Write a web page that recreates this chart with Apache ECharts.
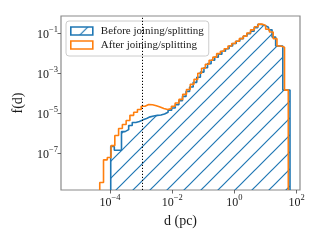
<!DOCTYPE html>
<html><head><meta charset="utf-8">
<script src="https://cdn.jsdelivr.net/npm/echarts@6/dist/echarts.min.js"></script>
<style>html,body{margin:0;padding:0;background:#fff}#c{width:320px;height:240px}</style>
</head><body><div id="c"></div>
<script>
const seriesNames = ['Before joining/splitting', 'After joining/splitting'];
// 50 log-spaced histogram bins for each series (pc)
const beforeBinRange = [1.054e-4, 61.4];
const afterBinRange = [4.67e-5, 54.1];
const beforeValues = [
  2.2e-7, 1.4e-7, 1.4e-7, 1.2e-6, 1.5e-6, 2.4e-6, 3.4e-6, 3.8e-6, 4.6e-6, 5.4e-6,
  6.5e-6, 7.2e-6, 7.7e-6, 8.1e-6, 9.1e-6, 1.1e-5, 1.4e-5, 1.8e-5, 2.6e-5, 4.1e-5,
  6.8e-5, 1.2e-4, 2.0e-4, 3.4e-4, 6.1e-4, 1.1e-3, 1.8e-3, 2.9e-3, 4.3e-3, 6.1e-3,
  8.6e-3, 1.2e-2, 1.6e-2, 2.2e-2, 2.9e-2, 3.8e-2, 5.1e-2, 6.8e-2, 9.1e-2, 0.12,
  0.18, 0.26, 0.23, 0.19, 0.14, 6.1e-2, 2.2e-2, 2.2e-2, 1.4e-4, 1.4e-4
];
const afterValues = [
  3.5e-9, 4.7e-8, 6.1e-8, 2.4e-7, 7.7e-7, 1.7e-6, 2.7e-6, 4.3e-6, 7.7e-6, 1.1e-5,
  1.5e-5, 2.2e-5, 2.7e-5, 2.6e-5, 2.3e-5, 2.0e-5, 1.7e-5, 1.5e-5, 1.7e-5, 2.2e-5,
  3.2e-5, 4.8e-5, 8.6e-5, 1.5e-4, 2.7e-4, 4.8e-4, 9.7e-4, 1.7e-3, 2.7e-3, 4.3e-3,
  6.1e-3, 9.1e-3, 1.2e-2, 1.6e-2, 2.2e-2, 2.9e-2, 3.8e-2, 5.1e-2, 6.8e-2, 9.7e-2,
  0.14, 0.20, 0.27, 0.23, 0.15, 0.11, 5.1e-2, 2.2e-2, 1.9e-2, 1.4e-4
];
const xTicks = [1e-4, 1e-2, 1, 1e2];
const yTicks = [1e-7, 1e-5, 1e-3, 1e-1];
const xRange = [2.65e-6, 128.8];
const yRange = [1.48e-9, 0.684];
const markerD = 1.12e-3;

const L = Math.log10;
const yBottom = L(yRange[0]);
function edges(range, n) {
  const a = L(range[0]), b = L(range[1]);
  const out = [];
  for (let i = 0; i <= n; i++) out.push(a + (b - a) * i / n);
  return out;
}
function stepData(range, values) {
  const e = edges(range, values.length);
  const pts = [[e[0], yBottom]];
  values.forEach((v, i) => pts.push([e[i], L(v)]));
  pts.push([e[values.length], L(values[values.length - 1])]);
  pts.push([e[values.length], yBottom]);
  return pts;
}
function hatch() {
  const s = 17, c = document.createElement('canvas');
  c.width = s; c.height = s;
  const g = c.getContext('2d');
  g.strokeStyle = '#1f77b4'; g.lineWidth = 1.2;
  g.beginPath();
  for (const k of [0, s, 2 * s]) { g.moveTo(k - s - 2, s + 2); g.lineTo(k + 2, -2); }
  g.stroke();
  return { image: c, repeat: 'repeat' };
}
const pattern = hatch();
const FONT = 'Liberation Serif';
const TXT = '#1a1a1a';
function powLabel(v) {
  const e = Math.round(v);
  return '{b|10}{s|' + (e < 0 ? '\u2212' + (-e) : e) + '}';
}
const rich = {
  b: { fontFamily: FONT, fontSize: 12, color: TXT, lineHeight: 16, verticalAlign: 'bottom' },
  s: { fontFamily: FONT, fontSize: 8.5, color: TXT, lineHeight: 16, verticalAlign: 'top' }
};

const chart = echarts.init(document.getElementById('c'), null, { renderer: 'canvas' });
chart.setOption({
  animation: false,
  grid: { left: 61, top: 16, right: 20, bottom: 50, show: true, borderColor: '#8a8a8a', borderWidth: 1.2, backgroundColor: 'transparent', containLabel: false, outerBoundsMode: 'none' },
  legend: {
    left: 66, top: 21, orient: 'vertical', itemWidth: 22, itemHeight: 8, itemGap: 2,
    padding: [4, 5, 5, 4], backgroundColor: 'rgba(255,255,255,0.8)', borderColor: '#cccccc', borderWidth: 1, borderRadius: 3,
    textStyle: { fontFamily: FONT, fontSize: 11, color: TXT, lineHeight: 12, padding: [0, 0, 0, 3] },
    data: [
      { name: seriesNames[0], icon: 'rect', itemStyle: { color: pattern, borderColor: '#1f77b4', borderWidth: 1.6 } },
      { name: seriesNames[1], icon: 'rect', itemStyle: { color: 'rgba(255,255,255,0)', borderColor: '#ff7f0e', borderWidth: 1.6 } }
    ]
  },
  xAxis: {
    type: 'value', min: L(xRange[0]), max: L(xRange[1]),
    axisLine: { show: false, onZero: false }, splitLine: { show: false },
    axisTick: { show: true, customValues: xTicks.map(L), length: 3.5, lineStyle: { color: '#444', width: 0.8 } },
    axisLabel: { customValues: xTicks.map(L), formatter: powLabel, rich: rich, margin: 3 },
    name: 'd (pc)', nameLocation: 'middle', nameGap: 20,
    nameTextStyle: { fontFamily: FONT, fontSize: 14, color: TXT }
  },
  yAxis: {
    type: 'value', min: yBottom, max: L(yRange[1]),
    axisLine: { show: false, onZero: false }, splitLine: { show: false },
    axisTick: { show: true, customValues: yTicks.map(L), length: 3.5, lineStyle: { color: '#444', width: 0.8 } },
    axisLabel: { customValues: yTicks.map(L), formatter: powLabel, rich: rich, margin: 3 },
    name: 'f(d)', nameLocation: 'middle', nameGap: 36, nameRotate: 90,
    nameTextStyle: { fontFamily: FONT, fontSize: 14, color: TXT }
  },
  series: [
    {
      type: 'line', name: seriesNames[0], data: stepData(beforeBinRange, beforeValues), step: 'end',
      symbol: 'none', clip: true, z: 2,
      itemStyle: { color: '#1f77b4' },
      lineStyle: { color: '#1f77b4', width: 1.6 },
      areaStyle: { color: pattern, opacity: 1, origin: 'start' }
    },
    {
      type: 'line', name: seriesNames[1], data: stepData(afterBinRange, afterValues), step: 'end',
      symbol: 'none', clip: true, z: 3,
      itemStyle: { color: '#ff7f0e' },
      lineStyle: { color: '#ff7f0e', width: 1.6 },
      markLine: {
        silent: true, symbol: 'none', label: { show: false },
        lineStyle: { type: [1.2, 1.8], color: '#000', width: 1 },
        data: [{ xAxis: L(markerD) }]
      }
    }
  ]
});
</script></body></html>
